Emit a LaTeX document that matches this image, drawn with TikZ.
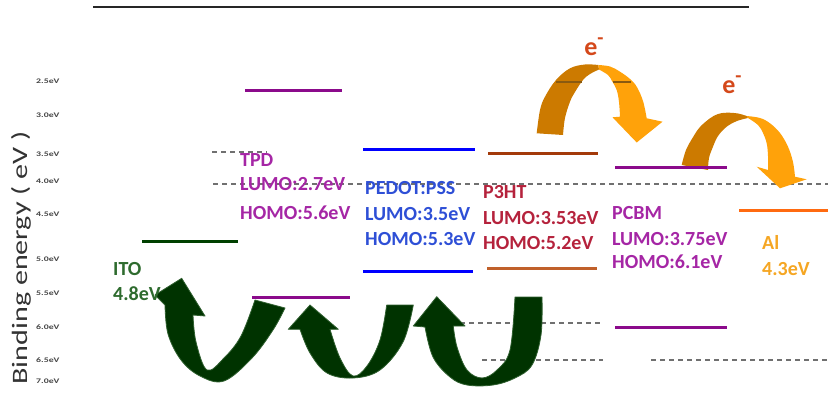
\documentclass[tikz,border=0pt]{standalone}
\usepackage{fontspec}
\setmainfont{Carlito}
\usetikzlibrary{arrows.meta}
\definecolor{itoline}{HTML}{004000}
\definecolor{itotext}{HTML}{2E6B2E}
\definecolor{tpdline}{HTML}{8B0A8B}
\definecolor{tpdtext}{HTML}{A526A5}
\definecolor{pedline}{HTML}{0000FF}
\definecolor{pedtext}{HTML}{2E4FD6}
\definecolor{p3lumo}{HTML}{A33A0A}
\definecolor{p3homo}{HTML}{C0602A}
\definecolor{p3text}{HTML}{B5223C}
\definecolor{alline}{HTML}{FF6A10}
\definecolor{altext}{HTML}{F5A623}
\definecolor{etext}{HTML}{D4481A}
\definecolor{gridgray}{HTML}{707070}
\definecolor{axgray}{HTML}{444444}
\definecolor{garrow}{HTML}{003300}
\definecolor{garrowedge}{HTML}{2F5F2F}
\definecolor{odark}{HTML}{CC7A00}
\definecolor{olight}{HTML}{FFA20A}
\definecolor{ogrid}{HTML}{8A5A10}
\begin{document}
\begin{tikzpicture}[x=1pt,y=-1pt,
  lvl/.style={line width=3pt},
  gridln/.style={draw=gridgray, line width=1.3pt, dash pattern=on 5pt off 4pt},
  lbl/.style={anchor=base west, inner sep=0pt, font=\fontsize{20}{24}\selectfont\bfseries},
  axl/.style={anchor=west, inner sep=0pt, font=\fontsize{7}{8}\selectfont\bfseries, text=axgray},
  gar/.style={fill=garrow, draw=garrowedge, line width=0.8pt, line join=round},
  oar/.style={line width=0pt, line join=round},
  elbl/.style={inner sep=0pt, font=\fontsize{26}{28}\selectfont\bfseries, text=etext}
]
\useasboundingbox (0,0) rectangle (828,401);
% top rule
\draw[line width=2pt, color=black!85] (93,7) -- (749,7);
% axis title
\node[rotate=90, inner sep=0pt, text=black!80, font=\fontsize{22}{24}\selectfont] (title) at (21,258) {\scalebox{1.37}[1]{Binding energy ( eV )}};
% axis labels
\node[axl] (a25) at (36,81) {\scalebox{1.4}[1]{2.5eV}};
\node[axl] (a30) at (36,115) {\scalebox{1.4}[1]{3.0eV}};
\node[axl] (a35) at (36,154) {\scalebox{1.4}[1]{3.5eV}};
\node[axl] (a40) at (36,181) {\scalebox{1.4}[1]{4.0eV}};
\node[axl] (a45) at (36,214) {\scalebox{1.4}[1]{4.5eV}};
\node[axl] (a50) at (36,259) {\scalebox{1.4}[1]{5.0eV}};
\node[axl] (a55) at (36,293) {\scalebox{1.4}[1]{5.5eV}};
\node[axl] (a60) at (36,327) {\scalebox{1.4}[1]{6.0eV}};
\node[axl] (a65) at (36,360) {\scalebox{1.4}[1]{6.5eV}};
\node[axl] (a70) at (36,381) {\scalebox{1.4}[1]{7.0eV}};
% grid lines
\draw[gridln] (212,152) -- (267,152);
\draw[gridln] (213,184) -- (828,184);
\draw[gridln] (460,323) -- (603,323);
\draw[gridln] (482,360) -- (603,360);
\draw[gridln] (651,360) -- (828,360);
% green arrows
\filldraw[gar] (181.7,278.3) -- (205,316) -- (193,315)
  -- plot[smooth, tension=0.6] coordinates {(193,315) (196,342) (207,370) (224,358) (241,336) (255,300)}
  -- (285,308)
  -- plot[smooth, tension=0.6] coordinates {(285,308) (273,330) (252,358) (224,381) (200,376) (181,360) (168,334) (165,305)}
  -- (155,295) -- cycle;
\filldraw[gar] (310,305) -- (338.3,329.3) -- (330,329.3)
  -- plot[smooth, tension=0.6] coordinates {(330,329.3) (340,358) (353,376) (367,366) (380,340) (386.7,305)}
  -- (413.3,305)
  -- plot[smooth, tension=0.6] coordinates {(413.3,305) (403,342) (380,370) (353,378) (327,373) (310,353) (300,329.3)}
  -- (288.3,329.3) -- cycle;
\filldraw[gar] (436.7,296.7) -- (465,326) -- (453.3,326)
  -- plot[smooth, tension=0.6] coordinates {(453.3,326) (457,347) (467,370) (482,378) (497,370) (510,350) (515,297)}
  -- (542,297)
  -- plot[smooth, tension=0.6] coordinates {(542,297) (541,335) (532,365) (515,378) (493,385) (467,385) (450,377) (433,357) (425,327)}
  -- (413.3,326) -- cycle;
% orange arrows
\fill[odark, oar] plot[smooth, tension=0.6] coordinates {(536.7,133.3) (540,110) (545,96.7) (556,80) (570,68.3) (585,64.5) (598.3,65)}
  -- plot[smooth, tension=0.6] coordinates {(599,69.5) (590,74) (583,80) (575,92) (570,101.7) (565,118) (563,135)} -- cycle;
\fill[olight, oar] plot[smooth, tension=0.6] coordinates {(598.3,65) (610,66.5) (620,71.7) (630,79) (636.7,86.7) (643,101) (646.7,118.3)}
  -- (662.5,121.7) -- (636.7,142.5) -- (612.5,117.3)
  -- plot[smooth, tension=0.6] coordinates {(620,116.7) (619,102) (616.7,90) (612,81) (608,75) (599,69.5)} -- cycle;
\draw[ogrid, line width=1.2pt] (556,82) -- (582,82);
\draw[ogrid, line width=1.2pt] (613,82) -- (631,82);
\fill[odark, oar] plot[smooth, tension=0.6] coordinates {(681.7,165) (686,150) (693.3,136.7) (700,127) (710,118.3) (718,114) (726.7,112.7) (738,113.5) (746.7,116)}
  -- plot[smooth, tension=0.6] coordinates {(748,118) (737,121) (726.7,126.7) (718,136) (713,146.7) (709,158) (708,170)} -- cycle;
\fill[olight, oar] plot[smooth, tension=0.6] coordinates {(746.7,116) (760,118) (770,123.3) (780,133) (788,146.7) (793,162) (795,176.7)}
  -- (806.7,179.3) -- (780,188.3) -- (756.7,166.7)
  -- plot[smooth, tension=0.6] coordinates {(768,170) (768,156) (766.7,143.3) (763,133) (758,125) (748,118)} -- cycle;
\node[elbl] (e1) at (594,47) {e\raisebox{0.42em}{\fontsize{20}{20}\selectfont -}};
\node[elbl] (e2) at (732,85) {e\raisebox{0.42em}{\fontsize{20}{20}\selectfont -}};
% energy levels
\draw[lvl, itoline] (142,241) -- (238,241);
\draw[lvl, tpdline] (245,91) -- (342,91);
\draw[lvl, tpdline] (252,297) -- (350,297);
\draw[lvl, pedline] (363,150) -- (475,150);
\draw[lvl, pedline] (363,271) -- (473,271);
\draw[lvl, p3lumo] (488,154) -- (598,154);
\draw[lvl, p3homo] (487,268) -- (597,268);
\draw[lvl, tpdline] (615,168) -- (727,168);
\draw[lvl, tpdline] (615,327) -- (727,327);
\draw[lvl, alline] (739,211) -- (828,211);
% labels
\node[lbl, text=itotext] (ito1) at (113,275) {ITO};
\node[lbl, text=itotext] (ito2) at (113,300) {4.8eV};
\node[lbl, text=tpdtext] (tpd1) at (240,167) {TPD};
\node[lbl, text=tpdtext] (tpd2) at (240,191) {LUMO:2.7eV};
\node[lbl, text=tpdtext] (tpd3) at (240,219) {HOMO:5.6eV};
\node[lbl, text=pedtext] (ped1) at (365,195) {PEDOT:PSS};
\node[lbl, text=pedtext] (ped2) at (365,220) {LUMO:3.5eV};
\node[lbl, text=pedtext] (ped3) at (365,245) {HOMO:5.3eV};
\node[lbl, text=p3text] (p31) at (483,199) {P3HT};
\node[lbl, text=p3text] (p32) at (483,225) {LUMO:3.53eV};
\node[lbl, text=p3text] (p33) at (483,250) {HOMO:5.2eV};
\node[lbl, text=tpdtext] (pc1) at (612,219) {PCBM};
\node[lbl, text=tpdtext] (pc2) at (612,245) {LUMO:3.75eV};
\node[lbl, text=tpdtext] (pc3) at (612,269) {HOMO:6.1eV};
\node[lbl, text=altext] (al1) at (762,249) {Al};
\node[lbl, text=altext] (al2) at (762,275) {4.3eV};
\end{tikzpicture}
\end{document}
